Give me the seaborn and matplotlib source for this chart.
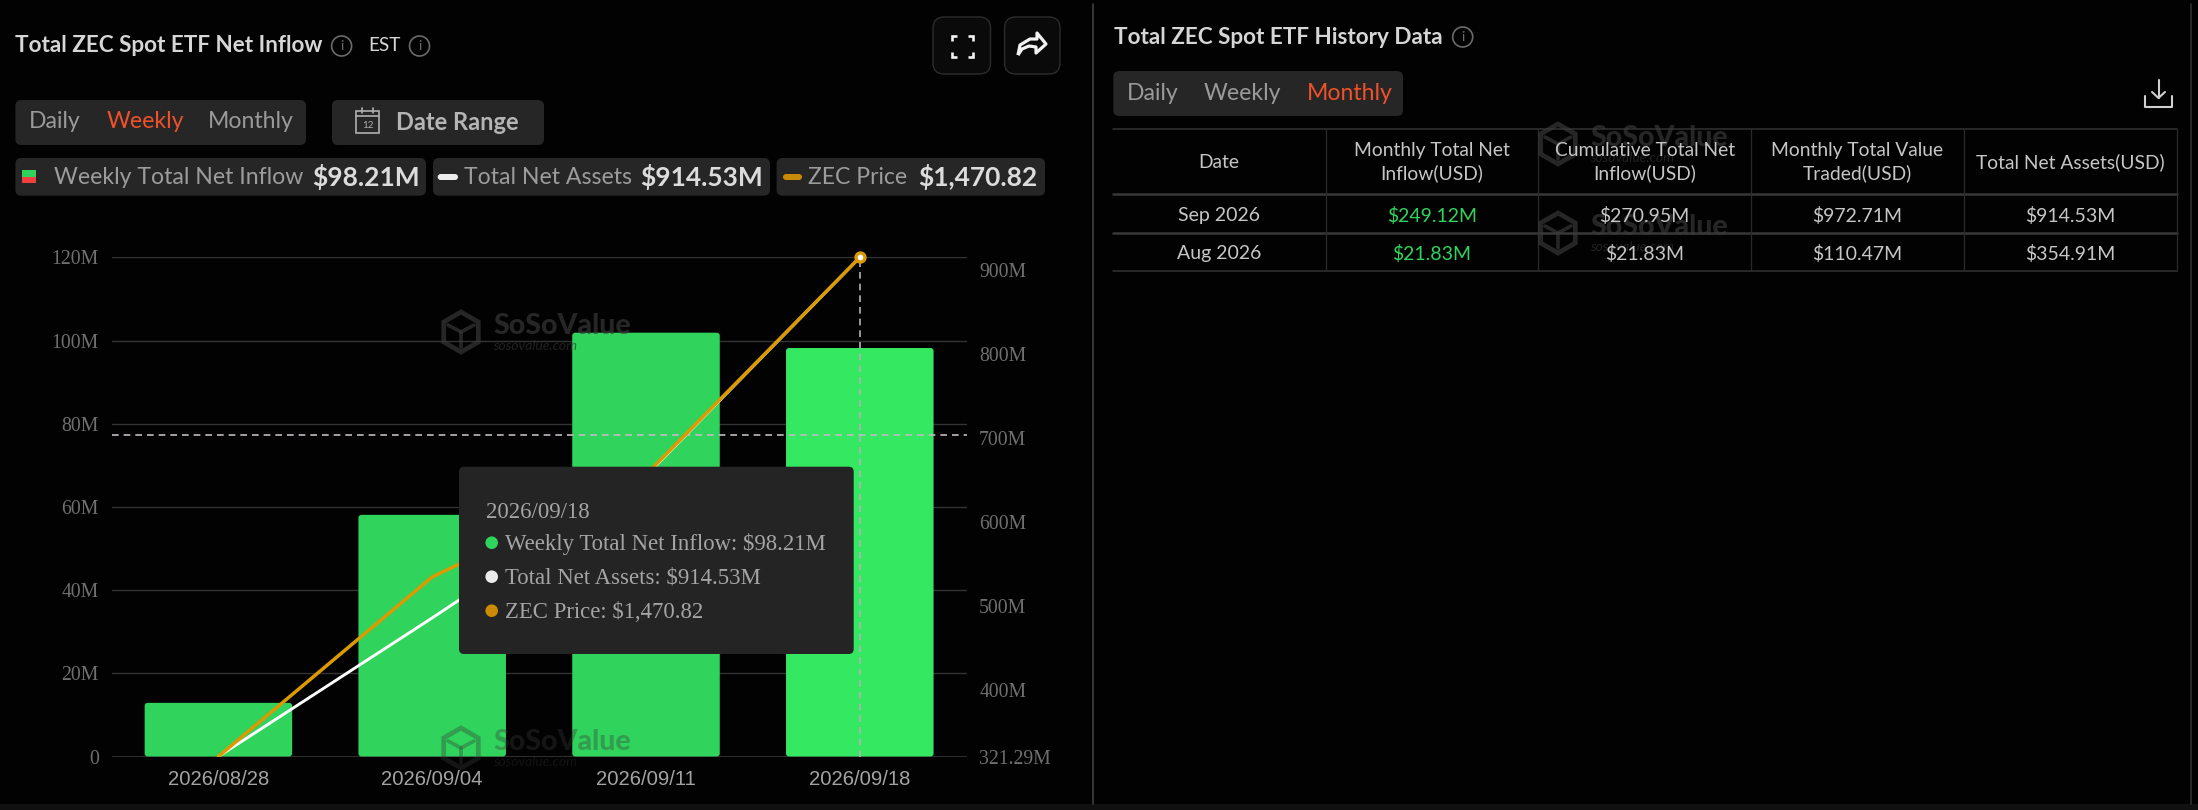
import numpy as np
import pandas as pd
import seaborn as sns
import matplotlib.pyplot as plt
from matplotlib.patches import FancyBboxPatch, Circle, RegularPolygon, Rectangle
from matplotlib.path import Path
from matplotlib.patches import PathPatch

# chart values
dates = ['2026/08/28', '2026/09/04', '2026/09/11', '2026/09/18']
net_inflow = [12.9, 58.1, 101.9, 98.21]
net_assets = [321.29, 486.0, 655.0, 914.53]
zec_price = [520.0, 862.0, 1057.0, 1470.82]

left_ticks = [0, 20, 40, 60, 80, 100, 120]
left_labels = ['0', '20M', '40M', '60M', '80M', '100M', '120M']
right_ticks = [321.29, 400, 500, 600, 700, 800, 900]
right_labels = ['321.29M', '400M', '500M', '600M', '700M', '800M', '900M']
cursor_y = 77.2

# legend / tooltip text
tip_date = '2026/09/18'
tip_rows = ['Weekly Total Net Inflow: $98.21M', 'Total Net Assets: $914.53M', 'ZEC Price: $1,470.82']
legend_names = ['Weekly Total Net Inflow', 'Total Net Assets', 'ZEC Price']
legend_values = ['$98.21M', '$914.53M', '$1,470.82']

# table
table_head = ['Date', 'Monthly Total Net\nInflow(USD)', 'Cumulative Total Net\nInflow(USD)',
              'Monthly Total Value\nTraded(USD)', 'Total Net Assets(USD)']
table_months = ['Sep 2026', 'Aug 2026']
table_monthly = ['$249.12M', '$21.83M']
table_cumulative = ['$270.95M', '$21.83M']
table_traded = ['$972.71M', '$110.47M']
table_assets = ['$914.53M', '$354.91M']

GREEN = '#30d35b'
GREEN_HI = '#35e862'
ORANGE = '#dc9a02'
PILL = '#262626'
RED = '#f0502a'
SERIF = 'Liberation Serif'
SANS = 'Liberation Sans'

sns.set_theme(style='dark')
plt.rcParams['font.family'] = ['Lato', 'DejaVu Sans']

W, H = 2198, 810
fig = plt.figure(figsize=(W / 100, H / 100), dpi=100, facecolor='#020202')

# main chart, bars on the left scale
ax = fig.add_axes([111.5 / W, (H - 756.5) / H, 855.2 / W, 499.1 / H], facecolor='none')
ax.grid(False)
df = pd.DataFrame({'date': dates, 'inflow': net_inflow})
sns.barplot(data=df, x='date', y='inflow', hue='date', legend=False, width=0.69,
            palette=[GREEN, GREEN, GREEN, GREEN_HI], saturation=1, ax=ax, zorder=2)
ax.set_xlim(-0.5, 3.5)
ax.set_ylim(0, 120)
# rounded corners on the bars
for p in list(ax.patches):
    box = FancyBboxPatch((p.get_x(), p.get_y()), p.get_width(), p.get_height(),
                         boxstyle='round,pad=0,rounding_size=0.014', mutation_aspect=51,
                         fc=p.get_facecolor(), ec='none', zorder=2)
    p.set_visible(False)
    ax.add_patch(box)
ax.set_yticks(left_ticks, left_labels, fontfamily=SERIF, fontsize=14.2, color='#6f6f6f')
ax.set_xticks(range(4), dates, fontfamily=SANS, fontsize=14.6, color='#a3a3a3')
ax.set_xlabel('')
ax.set_ylabel('')
ax.tick_params(length=0, pad=9, axis='y')
ax.tick_params(length=0, pad=10, axis='x')
for v in left_ticks:
    ax.axhline(v, color='#333333', lw=1.3 if v == 0 else 1.0, zorder=1)
for s in ax.spines.values():
    s.set_visible(False)

# net assets on the right scale
ax2 = ax.twinx()
ax2.grid(False)
ax2.set_facecolor('none')
sns.lineplot(x=dates, y=net_assets, sort=False, color='#ffffff', linewidth=2.1, ax=ax2, zorder=3)
ax2.set_ylim(right_ticks[0], net_assets[-1])
ax2.set_yticks(right_ticks, right_labels, fontfamily=SERIF, fontsize=14.2, color='#6f6f6f')
ax2.tick_params(length=0, pad=9)
ax2.set_ylabel('')
for s in ax2.spines.values():
    s.set_visible(False)

# crosshair
ax2.axvline(3, color='#b9b0b9', lw=1.2, ls=(0, (4, 3)), zorder=4)

# price has its own hidden scale
ax3 = ax.twinx()
ax3.grid(False)
ax3.set_facecolor('none')
sns.lineplot(x=dates, y=zec_price, sort=False, color=ORANGE, linewidth=2.5, ax=ax3, zorder=5)
sns.scatterplot(x=dates[-1:], y=zec_price[-1:], s=42, color='#ffffff', edgecolor=ORANGE,
                linewidth=2.4, ax=ax3, zorder=6, clip_on=False)
ax3.set_ylim(zec_price[0], zec_price[-1])
ax3.set_yticks([])
ax3.set_ylabel('')
for s in ax3.spines.values():
    s.set_visible(False)
ax3.axhline((cursor_y / 120) * (zec_price[-1] - zec_price[0]) + zec_price[0],
            color='#c2bac2', lw=1.2, ls=(0, (4, 3)), zorder=4)

# overlay in pixels for the page furniture
ui = fig.add_axes([0, 0, 1, 1], facecolor='none')
ui.set_xlim(0, W)
ui.set_ylim(H, 0)
ui.axis('off')


def txt(x, y, s, size, color='#cfcfcf', weight='normal', ha='left', family=None, z=10, **kw):
    if family is None:
        family = ['Lato', 'DejaVu Sans']
    return ui.text(x, y, s, fontsize=size, color=color, fontweight=weight, ha=ha, va='center',
                   family=family, zorder=z, **kw)


def pill(x0, y0, x1, y1, fc=PILL, ec='none', r=6, z=5, lw=1):
    ui.add_patch(FancyBboxPatch((x0, y0), x1 - x0, y1 - y0, boxstyle=f'round,pad=0,rounding_size={r}',
                                fc=fc, ec=ec, lw=lw, zorder=z))


def info(x, y):
    ui.add_patch(Circle((x, y), 10, fc='none', ec='#6a6a6a', lw=1.2, zorder=6))
    txt(x, y, 'i', 10, color='#6a6a6a', ha='center')


def watermark(x, y, a):
    mark = '#3a3a3a'
    ui.add_patch(RegularPolygon((x, y), 6, radius=20, fc='none', ec=mark, lw=3.4, alpha=a, zorder=7))
    ui.plot([x - 13, x, x + 13], [y - 7, y, y - 7], color=mark, lw=2.6, alpha=a, zorder=7)
    ui.plot([x, x], [y, y + 15], color=mark, lw=2.6, alpha=a, zorder=7)
    txt(x + 32, y - 6, 'SoSoValue', 20.5, color=mark, weight='black', z=7, alpha=a)
    txt(x + 32, y + 14, 'sosovalue.com', 10, color='#333333', style='italic', z=7, alpha=a)


# bottom strip and dividers
ui.add_patch(Rectangle((0, 804), W, 6, fc='#101010', ec='none', zorder=1))
ui.plot([1093, 1093], [4, 804], color='#454545', lw=1.1, zorder=2)
ui.plot([2190.7, 2190.7], [4, 804], color='#333333', lw=1.1, zorder=2)

# left header
txt(15.4, 45.5, 'Total ZEC Spot ETF Net Inflow', 16.2, weight='bold', color='#d6d6d6')
info(341.6, 46)
txt(368, 45.5, 'EST', 13.6, color='#d6d6d6')
info(419.5, 46)

pill(933, 17, 990.5, 74, fc='#0a0a0a', ec='#2c2c2c', r=11)
pill(1004.6, 17, 1060, 74, fc='#0a0a0a', ec='#2c2c2c', r=11)
# fullscreen corners
for sx, sy in [(-1, -1), (1, -1), (-1, 1), (1, 1)]:
    cx, cy = 962 + sx * 10.5, 46 + sy * 10.5
    ui.plot([cx - sx * 5, cx, cx], [cy, cy, cy - sy * 5], color='#f2f2f2', lw=1.9, zorder=7,
            solid_capstyle='butt', solid_joinstyle='miter')
# share arrow
arrow = Path([(1018, 55), (1020, 45), (1030, 39), (1037, 39), (1037, 33), (1046, 44), (1036, 53),
              (1036, 47), (1029, 46), (1022, 49), (1018, 55)])
ui.add_patch(PathPatch(arrow, fc='none', ec='#f2f2f2', lw=2.3, zorder=7, joinstyle='round'))

# period buttons
pill(15.4, 100, 306, 145)
txt(29, 122, 'Daily', 16.6, color='#9a9a9a')
txt(107, 122, 'Weekly', 16.6, color=RED)
txt(208, 122, 'Monthly', 16.6, color='#9a9a9a')
pill(332, 100, 544, 145)
ui.add_patch(Rectangle((356, 111), 23, 22, fc='none', ec='#b0b0b0', lw=1.2, zorder=7))
ui.plot([356, 379], [116, 116], color='#b0b0b0', lw=1.2, zorder=7)
ui.plot([362, 362], [108, 113], color='#b0b0b0', lw=1.2, zorder=7)
ui.plot([373, 373], [108, 113], color='#b0b0b0', lw=1.2, zorder=7)
txt(367.5, 125, '12', 7, color='#b0b0b0', ha='center')
txt(396, 122, 'Date Range', 17, color='#b5b5b5', weight='bold')

# legend pills
pill(15.4, 158, 426, 195.7)
pill(433, 158, 770, 195.7)
pill(776.6, 158, 1045, 195.7)
ui.add_patch(Rectangle((21.7, 170), 14.1, 6.7, fc=GREEN, ec='none', zorder=7))
ui.add_patch(Rectangle((21.7, 176.7), 14.1, 6.3, fc='#f23f3f', ec='none', zorder=7))
pill(437.7, 174, 458, 180, fc='#ededed', r=3, z=7)
pill(783, 174, 802, 180, fc='#c98a08', r=3, z=7)
txt(54, 177, legend_names[0], 16.6, color='#9c9c9c')
txt(312, 177, legend_values[0], 19, color='#dcdcdc', weight='bold')
txt(463.7, 177, legend_names[1], 16.6, color='#9c9c9c')
txt(640, 177, legend_values[1], 19, color='#dcdcdc', weight='bold')
txt(808, 177, legend_names[2], 16.6, color='#9c9c9c')
txt(918, 177, legend_values[2], 19, color='#dcdcdc', weight='bold')

# watermarks
watermark(461, 332, 0.65)
watermark(461, 748, 0.35)
watermark(1558, 144, 0.65)
watermark(1558, 233, 0.65)

# tooltip
pill(459, 466.7, 853.7, 654, fc='#242424', r=5, z=20)
txt(485.7, 512.5, tip_date, 16.4, color='#a5a5a5', family=SERIF, z=21)
for row, yy, c in zip(tip_rows, [542.7, 576.7, 610.7], [GREEN, '#ebebeb', '#cc8b05']):
    ui.add_patch(Circle((491.7, yy), 6.3, fc=c, ec='none', zorder=21))
    txt(504.7, yy + 1.5, row, 16.4, color='#a5a5a5', family=SERIF, z=21)

# right panel header
txt(1114, 38, 'Total ZEC Spot ETF History Data', 16.2, weight='bold', color='#d6d6d6')
info(1462.7, 37)
pill(1113.3, 71, 1403, 116)
txt(1126.6, 94, 'Daily', 16.6, color='#9a9a9a')
txt(1204, 94, 'Weekly', 16.6, color='#9a9a9a')
txt(1306.6, 94, 'Monthly', 16.6, color=RED)
# download icon
ui.plot([2158.5, 2158.5], [80, 98], color='#d0d0d0', lw=1.5, zorder=7)
ui.plot([2152, 2158.5, 2165], [92, 98, 92], color='#d0d0d0', lw=1.5, zorder=7)
ui.plot([2145, 2145, 2172, 2172], [96, 107, 107, 96], color='#d0d0d0', lw=1.5, zorder=7)

# table rules
col_edges = [1113, 1325.5, 1538.4, 1751, 1963.5, 2177]
row_lines = [129.3, 193.7, 232.7, 271.3]
for yy, lw, c in zip(row_lines, [1.1, 1.8, 1.8, 1.1], ['#333333', '#383838', '#383838', '#333333']):
    ui.plot([col_edges[0], col_edges[-1]], [yy, yy], color=c, lw=lw, zorder=6)
for xx in col_edges[1:]:
    ui.plot([xx, xx], [row_lines[0], row_lines[-1]], color='#2a2a2a', lw=0.9, zorder=6)
centers = [(a + b) / 2 for a, b in zip(col_edges[:-1], col_edges[1:])]
for cx, head in zip(centers, table_head):
    txt(cx, 162, head, 13.9, color='#c6c6c6', ha='center', linespacing=1.4, z=8)
table_cols = [table_months, table_monthly, table_cumulative, table_traded, table_assets]
for i, col in enumerate(table_cols):
    for yy, val in zip([215.5, 254], col):
        txt(centers[i], yy, val, 14, color=GREEN if i == 1 else '#c6c6c6', ha='center', z=8)

fig.savefig('out.png', dpi=100, facecolor=fig.get_facecolor())
